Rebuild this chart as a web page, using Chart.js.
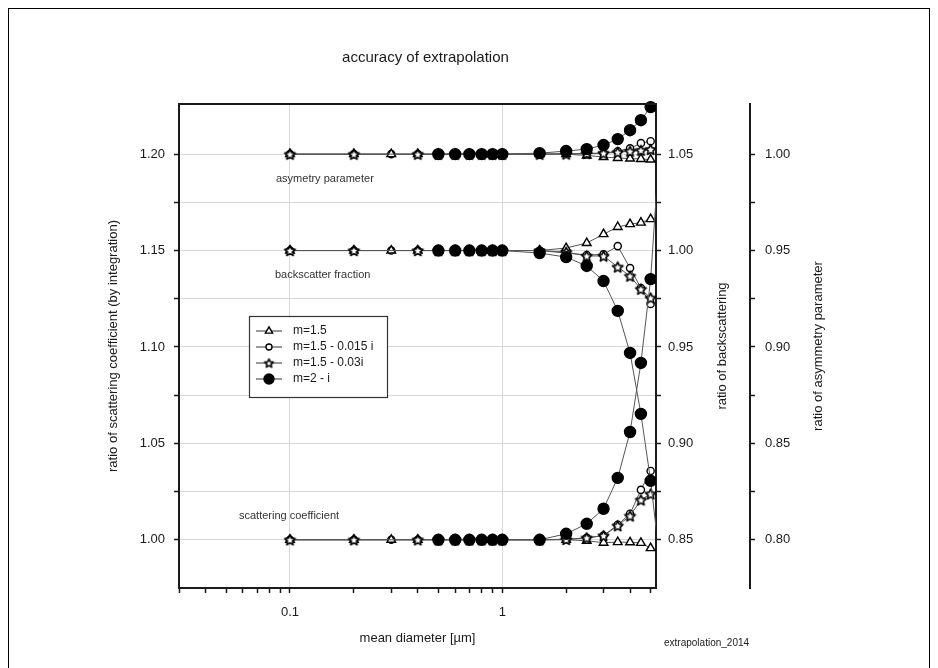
<!DOCTYPE html>
<html>
<head>
<meta charset="utf-8">
<script src="https://cdn.jsdelivr.net/npm/chart.js@4.4.1/dist/chart.umd.min.js"></script>
<style>
  html, body { margin: 0; padding: 0; background: #fff; }
  #wrap { width: 938px; height: 668px; position: relative; }
</style>
</head>
<body>
<div id="wrap"><canvas id="c" width="938" height="668"></canvas></div>
<script>
// mean diameter [µm] for each series
const DIAM        = [0.1, 0.2, 0.3, 0.4, 0.5, 0.6, 0.7, 0.8, 0.9, 1, 1.5, 2, 2.5, 3, 3.5, 4, 4.5, 5];
const DIAM_STAR   = [0.1, 0.2, 0.4, 0.5, 0.6, 0.7, 0.8, 0.9, 1, 1.5, 2, 2.5, 3, 3.5, 4, 4.5, 5];
const DIAM_FILLED = [0.5, 0.6, 0.7, 0.8, 0.9, 1, 1.5, 2, 2.5, 3, 3.5, 4, 4.5, 5, 6];

// scattering coefficient ratio (left axis)
const SCA_TRI  = [1, 1, 1, 1, 1, 1, 1, 1, 1, 1, 1.000, 1.000, 0.9995, 0.9985, 0.9988, 0.9987, 0.9984, 0.9957];
const SCA_CIRC = [1, 1, 1, 1, 1, 1, 1, 1, 1, 1, 1.000, 1.0003, 1.0010, 1.0022, 1.0078, 1.0135, 1.0259, 1.0357];
const SCA_STAR = [1, 1, 1, 1, 1, 1, 1, 1, 1, 1.000, 1.0002, 1.0010, 1.0021, 1.0073, 1.0124, 1.0207, 1.0238];
const SCA_FILL = [1, 1, 1, 1, 1, 1, 1.000, 1.0031, 1.0083, 1.0161, 1.0321, 1.0559, 1.0917, 1.1352, 1.265];

// backscatter fraction ratio (plotted with +0.15 offset on left axis)
const BSC_TRI  = [1.15, 1.15, 1.15, 1.15, 1.15, 1.15, 1.15, 1.15, 1.15, 1.15, 1.1500, 1.1513, 1.1539, 1.1585, 1.1622, 1.1637, 1.1645, 1.1663];
const BSC_CIRC = [1.15, 1.15, 1.15, 1.15, 1.15, 1.15, 1.15, 1.15, 1.15, 1.15, 1.1500, 1.1487, 1.1477, 1.1480, 1.1523, 1.1409, 1.1306, 1.1223];
const BSC_STAR = [1.15, 1.15, 1.15, 1.15, 1.15, 1.15, 1.15, 1.15, 1.15, 1.1500, 1.1492, 1.1472, 1.1472, 1.1415, 1.1368, 1.1300, 1.1254];
const BSC_FILL = [1.15, 1.15, 1.15, 1.15, 1.15, 1.15, 1.1487, 1.1466, 1.1420, 1.1342, 1.1187, 1.0969, 1.0653, 1.0306, 0.955];

// asymmetry parameter ratio (plotted with +0.20 offset on left axis)
const ASY_TRI  = [1.2, 1.2, 1.2, 1.2, 1.2, 1.2, 1.2, 1.2, 1.2, 1.2, 1.2000, 1.2000, 1.1993, 1.1985, 1.1980, 1.1977, 1.1975, 1.1972];
const ASY_CIRC = [1.2, 1.2, 1.2, 1.2, 1.2, 1.2, 1.2, 1.2, 1.2, 1.2, 1.2000, 1.2002, 1.2003, 1.2005, 1.2015, 1.2030, 1.2057, 1.2067];
const ASY_STAR = [1.2, 1.2, 1.2, 1.2, 1.2, 1.2, 1.2, 1.2, 1.2, 1.2000, 1.2001, 1.2003, 1.2005, 1.2010, 1.2015, 1.2020, 1.2025];
const ASY_FILL = [1.2, 1.2, 1.2, 1.2, 1.2, 1.2, 1.2005, 1.2016, 1.2026, 1.2047, 1.2078, 1.2124, 1.2176, 1.2244];

const LEGEND_LABELS = ['m=1.5', 'm=1.5 - 0.015 i', 'm=1.5 - 0.03i', 'm=2 - i'];
const X_TICKS = [0.03, 0.04, 0.05, 0.06, 0.07, 0.08, 0.09, 0.1, 0.2, 0.3, 0.4, 0.5, 0.6, 0.7, 0.8, 0.9, 1, 2, 3, 4, 5];
const X_LABELED = [0.1, 1];
const Y_TICKS  = [1.0, 1.025, 1.05, 1.075, 1.1, 1.125, 1.15, 1.175, 1.2];
const Y2_TICKS = [0.85, 0.875, 0.9, 0.925, 0.95, 0.975, 1.0, 1.025, 1.05];
const Y3_TICKS = [0.8, 0.825, 0.85, 0.875, 0.9, 0.925, 0.95, 0.975, 1.0];

const FONT = "'Liberation Sans', Arial, Helvetica, sans-serif";
const INK = '#1a1a1a';
Chart.defaults.font.family = FONT;
Chart.defaults.color = INK;

function makeStar(r) {
  const s = Math.ceil(r * 2 + 4);
  const c = document.createElement('canvas');
  c.width = c.height = s;
  const g = c.getContext('2d');
  g.translate(s / 2, s / 2 + 0.5);
  g.beginPath();
  for (let i = 0; i < 10; i++) {
    const rr = i % 2 ? r * 0.47 : r;
    const a = -Math.PI / 2 + i * Math.PI / 5;
    g.lineTo(rr * Math.cos(a), rr * Math.sin(a));
  }
  g.closePath();
  g.fillStyle = '#fff';
  g.fill();
  g.strokeStyle = '#000';
  g.lineWidth = 1.6;
  g.lineJoin = 'round';
  g.stroke();
  return c;
}
const STAR = makeStar(5.5);
const STAR_SMALL = makeStar(4.5);

const MARKERS = [
  { pointStyle: 'triangle', pointRadius: 5, pointBackgroundColor: '#fff', order: 3 },
  { pointStyle: 'circle',   pointRadius: 3.6, pointBackgroundColor: '#fff', order: 4 },
  { pointStyle: STAR,       pointRadius: 5, pointBackgroundColor: '#fff', order: 2 },
  { pointStyle: 'circle',   pointRadius: 5.5, pointBackgroundColor: '#000', order: 1 },
];

function pairs(xs, ys) {
  return ys.map((y, i) => ({ x: xs[i], y: y }));
}

const groups = [
  [SCA_TRI, SCA_CIRC, SCA_STAR, SCA_FILL],
  [BSC_TRI, BSC_CIRC, BSC_STAR, BSC_FILL],
  [ASY_TRI, ASY_CIRC, ASY_STAR, ASY_FILL],
];
const xsFor = [DIAM, DIAM, DIAM_STAR, DIAM_FILLED];

const datasets = [];
groups.forEach(g => {
  g.forEach((ys, k) => {
    const m = MARKERS[k];
    datasets.push({
      data: pairs(xsFor[k], ys),
      showLine: true,
      borderColor: '#555',
      borderWidth: 1,
      pointStyle: m.pointStyle,
      pointRadius: m.pointRadius,
      pointBackgroundColor: m.pointBackgroundColor,
      pointBorderColor: '#000',
      pointBorderWidth: 1.4,
      order: m.order,
      clip: { left: 8, top: 8, right: 0, bottom: 8 },
    });
  });
});

const is05 = v => Math.abs(Math.round(v * 20) - v * 20) < 1e-6;

function yAxis(ticksList, position, width, pad, min, max) {
  return {
    type: 'linear',
    position: position,
    min: min,
    max: max,
    afterBuildTicks: s => { s.ticks = ticksList.map(v => ({ value: v })); },
    afterFit: s => { s.width = width; },
    grid: {
      display: true,
      drawOnChartArea: position === 'left',
      color: '#d8d8d8',
      lineWidth: 1,
      tickColor: INK,
      tickLength: 5,
      tickWidth: 1.5,
    },
    border: { display: true, color: INK, width: 2 },
    ticks: {
      padding: pad,
      font: { size: 13 },
      color: INK,
      autoSkip: false,
      callback: v => is05(v) ? v.toFixed(2) : '',
    },
  };
}

const extras = {
  id: 'extras',
  afterDraw(chart) {
    const { ctx, chartArea: a } = chart;
    ctx.save();
    // top frame line
    ctx.strokeStyle = INK;
    ctx.lineWidth = 2;
    ctx.beginPath();
    ctx.moveTo(a.left - 1, a.top);
    ctx.lineTo(a.right + 1, a.top);
    ctx.stroke();
    // outer picture border
    ctx.lineWidth = 1;
    ctx.strokeStyle = '#000';
    ctx.strokeRect(8.5, 8.5, 921, 680);

    ctx.fillStyle = INK;
    ctx.textBaseline = 'middle';
    ctx.textAlign = 'center';
    ctx.font = '15px ' + FONT;
    ctx.fillText('accuracy of extrapolation', (a.left + a.right) / 2 + 8, a.top - 46);
    ctx.font = '13px ' + FONT;
    ctx.fillText('mean diameter [µm]', (a.left + a.right) / 2, a.bottom + 50);

    const midY = (a.top + a.bottom) / 2;
    [['ratio of scattering coefficient (by integration)', 113],
     ['ratio of backscattering', 722],
     ['ratio of asymmetry parameter', 818]].forEach(([t, x]) => {
      ctx.save();
      ctx.translate(x, midY);
      ctx.rotate(-Math.PI / 2);
      ctx.fillText(t, 0, 0);
      ctx.restore();
    });

    ctx.textAlign = 'left';
    ctx.font = '10px ' + FONT;
    ctx.fillText('extrapolation_2014', 664, 643);

    ctx.fillStyle = '#333';
    ctx.font = '11px ' + FONT;
    ctx.fillText('asymetry parameter', a.left + 97, a.top + 75);
    ctx.fillText('backscatter fraction', a.left + 96, a.top + 171);
    ctx.fillText('scattering coefficient', a.left + 60, a.top + 412);

    // legend box
    const lx = a.left + 70, ly = a.top + 212;
    ctx.strokeStyle = '#333';
    ctx.lineWidth = 1.2;
    ctx.fillStyle = '#fff';
    ctx.fillRect(lx, ly, 138, 81);
    ctx.strokeRect(lx + 0.5, ly + 0.5, 138, 81);
    ctx.font = '12px ' + FONT;
    LEGEND_LABELS.forEach((lab, i) => {
      const y = ly + 15 + i * 16;
      ctx.strokeStyle = '#333';
      ctx.lineWidth = 1;
      ctx.beginPath();
      ctx.moveTo(lx + 7, y);
      ctx.lineTo(lx + 33, y);
      ctx.stroke();
      const m = MARKERS[i];
      ctx.fillStyle = m.pointBackgroundColor;
      ctx.strokeStyle = '#000';
      ctx.lineWidth = 1.4;
      const style = m.pointStyle === STAR ? STAR_SMALL : m.pointStyle;
      const r = i === 0 ? 4.2 : (i === 1 ? 3 : 5);
      Chart.helpers.drawPoint(ctx, { pointStyle: style, radius: r, borderWidth: 1.4, rotation: 0 }, lx + 20, y);
      ctx.fillStyle = INK;
      ctx.fillText(lab, lx + 44, y);
    });
    ctx.restore();
  }
};

new Chart(document.getElementById('c'), {
  type: 'scatter',
  data: { datasets: datasets },
  options: {
    responsive: false,
    animation: false,
    events: [],
    layout: { padding: { top: 104, left: 0, right: 88, bottom: 0 } },
    plugins: { legend: { display: false }, tooltip: { enabled: false } },
    scales: {
      x: {
        type: 'logarithmic',
        position: 'bottom',
        min: 0.03,
        max: 5.3,
        afterBuildTicks: s => { s.ticks = X_TICKS.map(v => ({ value: v })); },
        afterFit: s => { s.height = 80; },
        grid: {
          color: c => (c.tick && X_LABELED.includes(c.tick.value)) ? '#d8d8d8' : 'rgba(0,0,0,0)',
          tickColor: INK,
          tickLength: 5,
          tickWidth: 1.5,
        },
        border: { display: true, color: INK, width: 2 },
        ticks: {
          padding: 12,
          font: { size: 13 },
          color: INK,
          autoSkip: false,
          maxRotation: 0,
          callback: v => X_LABELED.includes(v) ? String(v) : '',
        },
      },
      y:  yAxis(Y_TICKS,  'left',  179, 9,  0.975, 1.226),
      y2: yAxis(Y2_TICKS, 'right', 94,  7,  0.825, 1.076),
      y3: yAxis(Y3_TICKS, 'right', 100, 10, 0.775, 1.026),
    },
  },
  plugins: [extras],
});
</script>
</body>
</html>
